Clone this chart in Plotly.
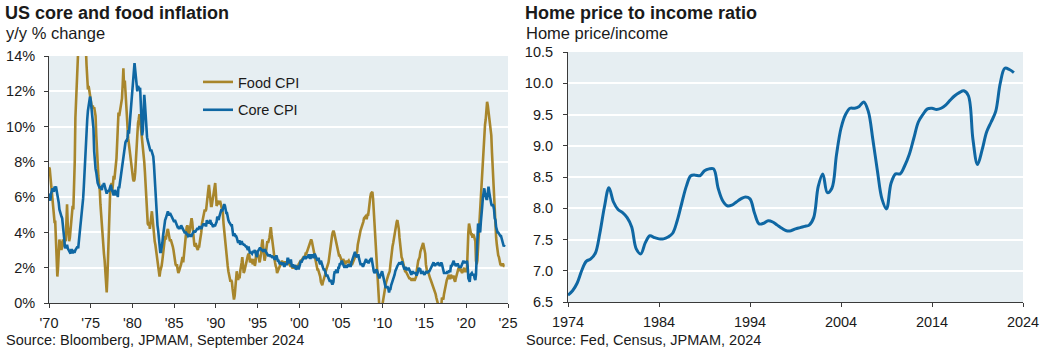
import pandas as pd
import plotly.graph_objects as go

# ---------------- Data ----------------
# US food CPI, y/y % change, monthly Jan-1970 .. Aug-2024
food_cpi = [
    7.7, 7.6, 7.2, 6.8, 6.2, 5.8, 5.3, 4.9, 4.6, 4.6, 3.8, 2.4,          # 1970
    1.5, 2.0, 3.2, 3.6, 3.3, 3.5, 3.0, 3.3, 3.6, 3.2, 3.4, 3.6,          # 1971
    3.5, 4.5, 5.6, 4.4, 3.9, 3.5, 3.7, 4.2, 4.6, 4.9, 5.5, 5.3,          # 1972
    6.5, 8.0, 10.5, 12.5, 13.5, 14.5, 16.5, 19.5, 20.0, 19.0, 19.0, 20.0,  # 1973
    20.0, 21.0, 18.5, 16.5, 15.5, 14.5, 13.5, 12.2, 12.1, 12.3, 12.0, 11.8,  # 1974
    11.7, 11.3, 11.0, 11.2, 11.0, 11.1, 10.9, 10.6, 9.5, 8.5, 7.8, 7.2,  # 1975
    6.8, 6.4, 5.6, 5.0, 4.3, 3.5, 3.1, 2.8, 2.4, 1.8, 1.2, 0.6,          # 1976
    1.5, 2.8, 4.5, 5.8, 6.3, 6.5, 6.8, 6.3, 6.7, 7.2, 7.0, 7.3,          # 1977
    7.8, 8.2, 9.0, 10.5, 10.8, 10.6, 10.9, 11.2, 11.4, 11.6, 12.4, 13.3,  # 1978
    12.2, 12.6, 12.0, 11.2, 10.5, 10.0, 9.3, 9.0, 8.6, 8.2, 7.8, 7.5,    # 1979
    7.2, 7.0, 6.9, 7.0, 7.4, 8.2, 9.0, 9.6, 10.2, 10.4, 10.7, 10.4,      # 1980
    10.0, 9.8, 9.3, 9.2, 8.5, 8.0, 7.4, 6.6, 5.7, 5.2, 4.5, 4.4,          # 1981
    4.6, 4.2, 4.6, 5.0, 5.2, 4.8, 4.2, 3.8, 3.5, 3.3, 3.0, 2.5,          # 1982
    2.2, 2.0, 1.8, 1.5, 1.8, 1.9, 2.1, 2.4, 2.8, 3.2, 3.3, 3.8,          # 1983
    3.6, 4.0, 4.1, 4.2, 4.0, 3.9, 3.5, 3.6, 3.5, 3.3, 3.2, 3.0,          # 1984
    2.6, 2.4, 2.2, 2.1, 2.2, 1.9, 1.7, 1.8, 1.9, 2.0, 2.2, 2.4,          # 1985
    2.6, 2.3, 2.6, 3.0, 3.3, 3.9, 4.3, 4.4, 4.2, 3.9, 4.0, 4.4,          # 1986
    4.6, 4.8, 4.6, 4.0, 3.6, 3.3, 3.2, 3.4, 3.2, 3.1, 3.0, 3.2,          # 1987
    3.2, 3.5, 3.7, 4.0, 4.5, 4.8, 5.0, 5.1, 5.3, 5.2, 5.3, 5.8,          # 1988
    6.0, 6.4, 6.7, 6.3, 5.7, 5.5, 5.5, 5.8, 6.1, 6.4, 6.6, 6.8,          # 1989
    6.2, 5.5, 5.6, 5.8, 5.7, 5.6, 5.8, 5.6, 5.4, 5.3, 5.1, 4.5,          # 1990
    4.0, 3.8, 3.5, 3.0, 2.5, 2.1, 1.8, 1.6, 1.3, 1.2, 1.3, 1.2,          # 1991
    0.8, 0.4, 0.2, 0.4, 1.0, 1.5, 1.8, 1.5, 1.3, 1.6, 1.4, 1.8,          # 1992
    2.0, 2.3, 2.6, 2.0, 1.7, 1.8, 2.0, 2.2, 2.4, 2.5, 2.7, 2.8,          # 1993
    2.7, 2.3, 2.4, 2.5, 2.4, 2.2, 2.3, 2.5, 2.1, 2.3, 2.9, 2.9,          # 1994
    2.8, 2.7, 2.5, 2.3, 2.5, 2.8, 3.3, 3.6, 3.2, 2.6, 2.4, 2.6,          # 1995
    3.0, 3.3, 3.5, 3.4, 3.5, 3.7, 4.0, 4.3, 3.9, 3.5, 3.3, 2.9,          # 1996
    2.6, 2.3, 2.1, 2.0, 1.7, 1.8, 2.0, 2.1, 2.2, 2.3, 2.4, 2.4,          # 1997
    2.3, 2.2, 2.2, 2.3, 2.3, 2.2, 2.3, 2.3, 2.3, 2.2, 2.1, 2.1,          # 1998
    2.1, 2.1, 2.0, 2.0, 2.0, 2.0, 2.0, 2.1, 2.1, 2.0, 2.0, 2.2,          # 1999
    2.3, 2.4, 2.4, 2.4, 2.5, 2.5, 2.6, 2.6, 2.6, 2.8, 2.8, 2.9,          # 2000
    3.0, 3.2, 3.3, 3.4, 3.5, 3.6, 3.5, 3.3, 3.2, 3.0, 2.8, 2.6,          # 2001
    2.3, 2.0, 1.9, 1.9, 1.8, 1.6, 1.5, 1.2, 1.1, 1.0, 1.2, 1.3,          # 2002
    1.4, 1.6, 1.8, 1.9, 2.0, 2.2, 2.3, 2.6, 3.0, 3.4, 3.6, 3.8,          # 2003
    4.0, 4.1, 4.0, 3.8, 3.8, 3.5, 3.3, 3.0, 2.8, 2.7, 2.7, 2.6,          # 2004
    2.5, 2.4, 2.3, 2.5, 2.4, 2.4, 2.2, 2.3, 2.4, 2.3, 2.4, 2.4,          # 2005
    2.3, 2.3, 2.2, 2.2, 2.2, 2.3, 2.4, 2.5, 2.5, 2.7, 2.7, 2.9,          # 2006
    3.3, 3.6, 3.7, 3.9, 4.1, 4.2, 4.3, 4.4, 4.6, 4.8, 4.9, 4.9,          # 2007
    4.8, 4.8, 5.0, 5.0, 5.3, 5.8, 6.0, 6.2, 6.3, 6.3, 5.9, 5.2,          # 2008
    4.5, 3.6, 2.7, 1.9, 1.2, 0.6, 0.2, -0.2, -0.4, -0.5, -0.5, -0.2,    # 2009
    0.1, 0.4, 0.6, 0.8, 1.0, 1.2, 1.4, 1.5, 1.6, 1.7, 1.8, 2.2,          # 2010
    2.7, 3.0, 3.2, 3.4, 3.7, 3.9, 4.2, 4.6, 4.6, 4.7, 4.5, 4.2,          # 2011
    3.7, 3.2, 2.8, 2.6, 2.5, 2.3, 2.0, 1.9, 1.8, 1.8, 1.7, 1.7,          # 2012
    1.6, 1.5, 1.4, 1.4, 1.3, 1.3, 1.3, 1.4, 1.3, 1.3, 1.3, 1.4,          # 2013
    1.5, 1.9, 2.2, 2.4, 2.5, 2.6, 2.9, 3.0, 3.1, 3.2, 3.4, 3.2,          # 2014
    3.0, 2.8, 2.2, 1.9, 1.7, 1.8, 1.6, 1.6, 1.4, 1.3, 1.2, 1.1,          # 2015
    1.0, 0.8, 0.8, 0.6, 0.5, 0.3, 0.2, 0.0, -0.2, -0.3, -0.2, -0.2,     # 2016
    -0.2, 0.3, 0.2, 0.2, 0.5, 0.7, 1.1, 1.3, 1.3, 1.4, 1.6, 1.6,        # 2017
    1.4, 1.4, 1.6, 1.4, 1.4, 1.5, 1.5, 1.3, 1.2, 1.4, 1.6, 1.6,          # 2018
    1.8, 2.0, 1.8, 2.0, 1.9, 1.8, 1.7, 1.8, 2.0, 2.0, 1.8, 1.8,          # 2019
    1.8, 1.9, 3.5, 4.0, 4.5, 4.1, 4.1, 3.9, 3.9, 3.7, 3.9, 3.8,          # 2020
    3.6, 3.5, 2.4, 2.2, 2.4, 3.4, 3.7, 4.6, 5.3, 6.1, 6.3, 7.0,          # 2021
    7.9, 8.8, 9.4, 10.1, 10.4, 10.9, 11.4, 11.2, 10.9, 10.6, 10.4, 10.1,  # 2022
    9.5, 8.5, 7.7, 6.7, 5.7, 4.9, 4.3, 3.7, 3.3, 2.9, 2.7, 2.6,          # 2023
    2.2, 2.2, 2.2, 2.1, 2.2, 2.2, 2.1, 2.1,                              # 2024
]

# US core CPI, y/y % change, monthly Jan-1970 .. Aug-2024
core_cpi = [
    6.2, 6.0, 5.8, 6.2, 6.4, 6.5, 6.4, 6.3, 6.6, 6.5, 6.6, 6.4,          # 1970
    6.3, 6.1, 5.7, 5.3, 5.1, 5.0, 4.9, 4.8, 4.5, 4.0, 3.6, 3.1,          # 1971
    3.2, 3.1, 3.3, 3.1, 3.0, 2.9, 2.8, 2.8, 3.0, 3.0, 2.8, 3.0,          # 1972
    2.9, 2.9, 3.0, 3.1, 3.2, 3.2, 3.1, 3.4, 3.8, 4.3, 4.7, 5.0,          # 1973
    5.4, 5.9, 6.5, 7.4, 8.2, 9.2, 9.9, 10.4, 10.9, 11.2, 11.3, 11.7,     # 1974
    11.5, 11.0, 10.8, 10.3, 9.9, 8.6, 7.9, 7.6, 7.4, 7.0, 6.8, 6.7,      # 1975
    6.6, 6.5, 6.6, 6.5, 6.4, 6.7, 6.6, 6.8, 6.6, 6.5, 6.4, 6.2,          # 1976
    6.3, 6.4, 6.3, 6.4, 6.5, 6.7, 6.5, 6.3, 6.2, 6.1, 6.2, 6.4,          # 1977
    6.3, 6.1, 6.3, 6.0, 6.6, 6.5, 6.8, 7.1, 7.4, 7.8, 8.0, 8.5,          # 1978
    8.7, 9.0, 9.1, 9.2, 9.2, 9.4, 9.8, 9.6, 10.1, 10.4, 10.8, 11.3,      # 1979
    11.9, 12.1, 12.9, 13.6, 13.2, 12.8, 12.4, 12.0, 12.3, 12.1, 12.1, 12.2,  # 1980
    11.4, 10.4, 9.5, 9.8, 11.0, 11.8, 11.3, 10.6, 9.8, 9.4, 9.2, 9.0,    # 1981
    8.9, 8.8, 8.6, 8.7, 8.6, 8.5, 8.3, 7.8, 7.0, 6.2, 5.6, 4.8,          # 1982
    4.4, 4.1, 3.7, 3.3, 2.9, 2.9, 3.1, 3.4, 3.8, 4.2, 4.5, 4.7,          # 1983
    4.8, 5.0, 5.1, 5.2, 5.0, 5.0, 5.1, 5.0, 5.0, 4.9, 4.8, 4.7,          # 1984
    4.6, 4.7, 4.6, 4.5, 4.4, 4.3, 4.3, 4.2, 4.3, 4.2, 4.4, 4.3,          # 1985
    4.3, 4.2, 4.1, 4.0, 4.0, 4.0, 3.9, 3.9, 3.8, 3.9, 3.9, 3.8,          # 1986
    3.8, 3.8, 3.9, 4.0, 4.0, 4.1, 4.0, 4.1, 4.2, 4.2, 4.2, 4.2,          # 1987
    4.3, 4.3, 4.3, 4.2, 4.3, 4.4, 4.5, 4.4, 4.5, 4.4, 4.4, 4.7,          # 1988
    4.5, 4.6, 4.5, 4.6, 4.7, 4.5, 4.5, 4.4, 4.3, 4.4, 4.4, 4.4,          # 1989
    4.5, 4.6, 4.9, 4.8, 4.7, 4.9, 5.0, 5.1, 5.3, 5.2, 5.3, 5.4,          # 1990
    5.6, 5.5, 5.2, 5.1, 5.1, 4.8, 4.7, 4.6, 4.5, 4.4, 4.4, 4.4,          # 1991
    3.9, 3.8, 3.9, 3.9, 3.8, 3.8, 3.7, 3.5, 3.4, 3.5, 3.5, 3.3,          # 1992
    3.5, 3.5, 3.4, 3.3, 3.3, 3.3, 3.2, 3.2, 3.2, 3.0, 3.0, 3.2,          # 1993
    2.9, 2.8, 2.9, 2.8, 2.8, 2.9, 2.9, 2.9, 3.0, 2.9, 2.8, 2.6,          # 1994
    2.9, 3.0, 3.0, 3.1, 3.1, 3.0, 3.0, 3.0, 2.9, 3.0, 3.0, 3.0,          # 1995
    2.9, 2.8, 2.8, 2.7, 2.7, 2.7, 2.7, 2.6, 2.7, 2.6, 2.6, 2.6,          # 1996
    2.5, 2.5, 2.5, 2.7, 2.5, 2.4, 2.4, 2.3, 2.2, 2.3, 2.2, 2.2,          # 1997
    2.2, 2.3, 2.1, 2.1, 2.2, 2.2, 2.2, 2.5, 2.5, 2.3, 2.3, 2.4,          # 1998
    2.4, 2.1, 2.1, 2.2, 2.0, 2.1, 2.1, 1.9, 2.0, 2.1, 2.1, 1.9,          # 1999
    2.0, 2.2, 2.4, 2.3, 2.4, 2.5, 2.5, 2.6, 2.6, 2.5, 2.6, 2.6,          # 2000
    2.6, 2.7, 2.7, 2.6, 2.5, 2.7, 2.7, 2.7, 2.6, 2.6, 2.8, 2.7,          # 2001
    2.6, 2.6, 2.4, 2.5, 2.5, 2.3, 2.2, 2.4, 2.2, 2.2, 2.0, 1.9,          # 2002
    1.9, 1.8, 1.7, 1.5, 1.6, 1.5, 1.5, 1.3, 1.2, 1.3, 1.1, 1.1,          # 2003
    1.1, 1.2, 1.6, 1.8, 1.7, 1.9, 1.8, 1.7, 2.0, 2.0, 2.2, 2.2,          # 2004
    2.3, 2.4, 2.3, 2.2, 2.2, 2.0, 2.1, 2.1, 2.0, 2.1, 2.1, 2.2,          # 2005
    2.1, 2.1, 2.1, 2.3, 2.4, 2.6, 2.7, 2.8, 2.9, 2.7, 2.6, 2.6,          # 2006
    2.7, 2.7, 2.5, 2.3, 2.2, 2.2, 2.2, 2.1, 2.1, 2.2, 2.3, 2.4,          # 2007
    2.5, 2.3, 2.4, 2.3, 2.3, 2.4, 2.5, 2.5, 2.5, 2.2, 2.0, 1.8,          # 2008
    1.7, 1.8, 1.8, 1.9, 1.8, 1.7, 1.5, 1.4, 1.5, 1.7, 1.7, 1.8,          # 2009
    1.6, 1.3, 1.1, 0.9, 0.9, 0.9, 0.9, 0.9, 0.8, 0.6, 0.8, 0.8,          # 2010
    1.0, 1.1, 1.2, 1.3, 1.5, 1.6, 1.8, 2.0, 2.0, 2.1, 2.2, 2.2,          # 2011
    2.3, 2.2, 2.3, 2.3, 2.3, 2.2, 2.1, 1.9, 2.0, 2.0, 1.9, 1.9,          # 2012
    1.9, 2.0, 1.9, 1.7, 1.7, 1.6, 1.7, 1.8, 1.7, 1.7, 1.7, 1.7,          # 2013
    1.6, 1.6, 1.7, 1.8, 2.0, 1.9, 1.9, 1.7, 1.7, 1.8, 1.7, 1.6,          # 2014
    1.6, 1.7, 1.8, 1.8, 1.7, 1.8, 1.8, 1.8, 1.9, 1.9, 2.0, 2.1,          # 2015
    2.2, 2.3, 2.2, 2.1, 2.2, 2.2, 2.2, 2.3, 2.2, 2.1, 2.1, 2.2,          # 2016
    2.3, 2.2, 2.0, 1.9, 1.7, 1.7, 1.7, 1.7, 1.7, 1.8, 1.7, 1.8,          # 2017
    1.8, 1.8, 2.1, 2.1, 2.2, 2.3, 2.4, 2.2, 2.2, 2.1, 2.2, 2.2,          # 2018
    2.2, 2.1, 2.0, 2.1, 2.0, 2.1, 2.2, 2.4, 2.4, 2.3, 2.3, 2.3,          # 2019
    2.3, 2.4, 2.1, 1.4, 1.2, 1.2, 1.6, 1.7, 1.7, 1.6, 1.6, 1.6,          # 2020
    1.4, 1.3, 1.6, 3.0, 3.8, 4.5, 4.3, 4.0, 4.0, 4.6, 4.9, 5.5,          # 2021
    6.0, 6.4, 6.5, 6.2, 6.0, 5.9, 5.9, 6.3, 6.6, 6.3, 6.0, 5.7,          # 2022
    5.6, 5.5, 5.6, 5.5, 5.3, 4.8, 4.7, 4.3, 4.1, 4.0, 4.0, 3.9,          # 2023
    3.9, 3.8, 3.8, 3.6, 3.4, 3.3, 3.2, 3.3,                              # 2024
]

infl_start = "1970-01-01"
infl_ticks = [1970, 1975, 1980, 1985, 1990, 1995, 2000, 2005, 2010, 2015, 2020, 2025]
infl_ticktext = ["'70", "'75", "'80", "'85", "'90", "'95", "'00", "'05", "'10", "'15", "'20", "'25"]
infl_yticks = [0, 2, 4, 6, 8, 10, 12, 14]
infl_yticktext = ["0%", "2%", "4%", "6%", "8%", "10%", "12%", "14%"]

# Home price to income ratio (semi-annual readings)
hp_years = [1974.0 + 0.5 * i for i in range(99)]
hp_ratio = [
    6.61, 6.68, 6.80, 7.00, 7.15, 7.19, 7.28, 7.60, 8.02, 8.33,   # 1974-1978.5
    8.10, 7.98, 7.93, 7.85, 7.70, 7.35, 7.27, 7.45, 7.56, 7.53,   # 1979-1983.5
    7.51, 7.51, 7.54, 7.60, 7.80, 8.08, 8.35, 8.52, 8.53, 8.52,   # 1984-1988.5
    8.60, 8.63, 8.63, 8.32, 8.12, 8.04, 8.05, 8.10, 8.15, 8.18,   # 1989-1993.5
    8.15, 7.92, 7.75, 7.76, 7.80, 7.78, 7.73, 7.68, 7.64, 7.64,   # 1994-1998.5
    7.67, 7.69, 7.71, 7.73, 7.85, 8.35, 8.55, 8.25, 8.32, 8.85,   # 1999-2003.5
    9.28, 9.50, 9.60, 9.60, 9.63, 9.70, 9.55, 9.10, 8.60, 8.15,   # 2004-2008.5
    7.99, 8.40, 8.55, 8.55, 8.68, 8.86, 9.12, 9.38, 9.50, 9.59,   # 2009-2013.5
    9.60, 9.58, 9.60, 9.65, 9.73, 9.80, 9.85, 9.88, 9.80, 9.10,   # 2014-2018.5
    8.70, 8.93, 9.22, 9.38, 9.55, 10.00, 10.24, 10.22, 10.17,     # 2019-2023
]
hp_ticks = [1974, 1984, 1994, 2004, 2014, 2024]

# ---------------- Styling ----------------
W, H = 1053, 351
FONT = "Liberation Sans, Arial, sans-serif"
BG = "#E6EEF2"
GOLD = "#A8862C"
BLUE = "#0F67A3"
AXIS = "#3A3A3A"
TXT = "#1A1A1A"


def px_x(p):
    return p / W


def px_y(p):
    return 1 - p / H


dates = pd.date_range(infl_start, periods=len(food_cpi), freq="MS")

fig = go.Figure()
fig.add_trace(go.Scatter(x=dates, y=food_cpi, mode="lines", name="Food CPI",
                         line=dict(color=GOLD, width=2.6), legendgroup="food",
                         xaxis="x", yaxis="y"))
fig.add_trace(go.Scatter(x=dates[:len(core_cpi)], y=core_cpi, mode="lines", name="Core CPI",
                         line=dict(color=BLUE, width=2.6), legendgroup="core",
                         xaxis="x", yaxis="y"))
fig.add_trace(go.Scatter(x=hp_years, y=hp_ratio, mode="lines", name="Home price/income",
                         line=dict(color=BLUE, width=3, shape="spline", smoothing=1.0),
                         showlegend=False, xaxis="x2", yaxis="y2"))

axis_common = dict(
    showline=True, linecolor=AXIS, linewidth=1,
    ticks="outside", ticklen=4, tickcolor=AXIS, tickwidth=1,
    tickfont=dict(family=FONT, size=14.5, color=TXT),
    zeroline=False, automargin=False,
)

fig.update_layout(
    width=W, height=H, autosize=False,
    margin=dict(l=0, r=0, t=0, b=0, pad=0, autoexpand=False),
    paper_bgcolor="white", plot_bgcolor=BG,
    font=dict(family=FONT, size=14, color=TXT),
    xaxis=dict(
        domain=[px_x(49), px_x(508)], anchor="y",
        type="date",
        range=["1970-01-01", "2025-01-01"],
        tickvals=[f"{y}-01-01" for y in infl_ticks],
        ticktext=infl_ticktext,
        showgrid=False, ticklabelstandoff=3,
        **axis_common,
    ),
    yaxis=dict(
        domain=[px_y(303), px_y(56)], anchor="x",
        range=[0, 14], tickvals=infl_yticks, ticktext=infl_yticktext,
        showgrid=True, gridcolor="white", gridwidth=1.5,
        ticklabelstandoff=6,
        **axis_common,
    ),
    xaxis2=dict(
        domain=[px_x(568), px_x(1023)], anchor="y2",
        range=[1974, 2024], tickvals=hp_ticks,
        showgrid=False, ticklabelstandoff=3,
        **axis_common,
    ),
    yaxis2=dict(
        domain=[px_y(302), px_y(52)], anchor="x2",
        range=[6.5, 10.5], dtick=0.5, tick0=6.5, tickformat=".1f",
        showgrid=True, gridcolor="white", gridwidth=1.5,
        ticklabelstandoff=7,
        **axis_common,
    ),
    legend=dict(
        x=px_x(198), y=px_y(66), xanchor="left", yanchor="top",
        bgcolor="rgba(0,0,0,0)", borderwidth=0,
        font=dict(family=FONT, size=14.5, color=TXT),
        traceorder="grouped", tracegroupgap=6,
    ),
    showlegend=True,
)

annots = [
    dict(text="<b>US core and food inflation</b>", x=px_x(3), y=px_y(12.5), size=18),
    dict(text="y/y % change", x=px_x(4), y=px_y(33), size=16.5),
    dict(text="Source: Bloomberg, JPMAM, September 2024", x=px_x(4), y=px_y(340), size=14.5),
    dict(text="<b>Home price to income ratio</b>", x=px_x(523), y=px_y(12.5), size=18),
    dict(text="Home price/income", x=px_x(524), y=px_y(33), size=16.5),
    dict(text="Source: Fed, Census, JPMAM, 2024", x=px_x(524), y=px_y(340), size=14.5),
]
for a in annots:
    fig.add_annotation(
        text=a["text"], x=a["x"], y=a["y"], xref="paper", yref="paper",
        xanchor="left", yanchor="middle", showarrow=False,
        font=dict(family=FONT, size=a["size"], color=TXT), align="left",
    )

fig.write_html("out.html")
